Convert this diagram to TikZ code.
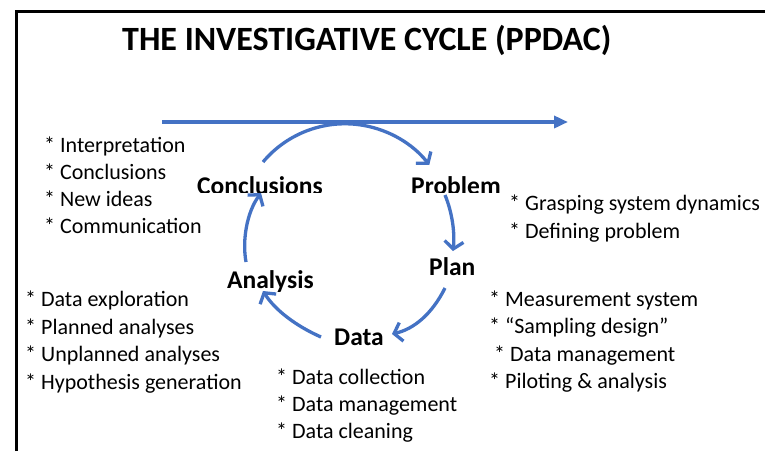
\documentclass[tikz,border=0pt]{standalone}
\usepackage{fontspec}
\setmainfont{Carlito}
\usetikzlibrary{arrows.meta}
\definecolor{cycleblue}{HTML}{4472C4}
\begin{document}
\begin{tikzpicture}[x=1pt,y=-1pt,
  item/.style={anchor=base west, inner sep=0pt, font=\fontsize{22}{26}\selectfont},
  stage/.style={anchor=base west, inner sep=0pt, font=\fontsize{25.5}{30}\selectfont\bfseries},
  titletext/.style={anchor=base west, inner sep=0pt, font=\fontsize{34}{40}\selectfont\bfseries},
  cyc/.style={draw=cycleblue, line width=3.3pt, -{Straight Barb[length=7.5pt,width=19pt]}},
  timeline/.style={draw=cycleblue, line width=3.5pt, -{Triangle[length=14pt,width=12pt]}},
  ]
\useasboundingbox (0,0) rectangle (765,451);
\fill[white] (0,0) rectangle (765,451);

% frame
\draw[line width=3pt] (16,451) -- (16,11) -- (765,11);

% title
\node[titletext] (title) at (122,50) {THE INVESTIGATIVE CYCLE (PPDAC)};

% time line
\coordinate (tl0) at (162,122);
\coordinate (tl1) at (568,122);
\draw[timeline] (tl0) -- (tl1);

% stage names (top two sit in clipped text boxes)
\begin{scope}
  \clip (150,150) rectangle (520,192);
  \node[stage] (conclusions) at (197,194) {Conclusions};
  \node[stage] (problem) at (411,194) {Problem};
\end{scope}
\node[stage] (plan) at (429,275) {Plan};
\node[stage] (analysis) at (227,288) {Analysis};
\node[stage] (data) at (334,345) {Data};

% cycle arrows
\coordinate (c0) at (263,162);
\coordinate (p0) at (445,195);
\coordinate (p1) at (453,251);
\coordinate (l0) at (445,288);
\coordinate (l1) at (392,334);
\coordinate (d0) at (321,337);
\coordinate (d1) at (263,291);
\coordinate (a0) at (246,262);
\coordinate (a1) at (261,193);
\draw[cyc] (c0) arc[start angle=-140, end angle=-38, radius=107];
\draw[cyc] (p0) .. controls (452,212) and (455,232) .. (p1);
\draw[cyc] (l0) .. controls (432,314) and (414,329) .. (l1);
\draw[cyc] (d0) .. controls (296,326) and (275,310) .. (d1);
\draw[cyc] (a0) .. controls (242,240) and (247,212) .. (a1);

% conclusions list
\node[item] (i1) at (44,152) {* Interpretation};
\node[item] (i2) at (44,179) {* Conclusions};
\node[item] (i3) at (44,206) {* New ideas};
\node[item] (i4) at (44,233) {* Communication};

% problem list
\node[item] (g1) at (509,210) {* Grasping system dynamics};
\node[item] (g2) at (509,238) {* Defining problem};

% plan list
\node[item] (m1) at (489,306) {* Measurement system};
\node[item] (m2) at (489,333) {* “Sampling design”};
\node[item] (m3) at (494,361) {* Data management};
\node[item] (m4) at (489,388) {* Piloting \& analysis};

% analysis list
\node[item] (e1) at (25,306) {* Data exploration};
\node[item] (e2) at (25,334) {* Planned analyses};
\node[item] (e3) at (25,361) {* Unplanned analyses};
\node[item] (e4) at (25,389) {* Hypothesis generation};

% data list
\node[item] (k1) at (276,384) {* Data collection};
\node[item] (k2) at (276,411) {* Data management};
\node[item] (k3) at (276,438) {* Data cleaning};
\end{tikzpicture}
\end{document}
